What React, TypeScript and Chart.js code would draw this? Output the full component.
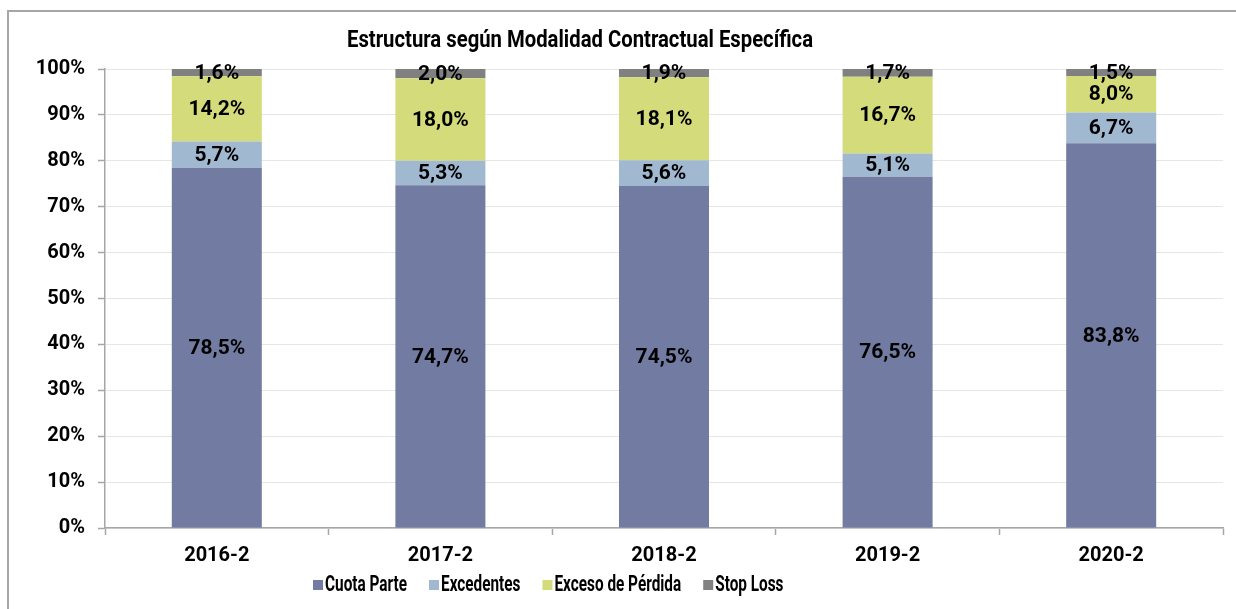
import React, { useEffect, useRef } from "react";
import { Chart, registerables } from "chart.js";

Chart.register(...registerables);

const titleText = "Estructura según Modalidad Contractual Específica";
const categories = ["2016-2", "2017-2", "2018-2", "2019-2", "2020-2"];
const seriesNames = ["Cuota Parte", "Excedentes", "Exceso de Pérdida", "Stop Loss"];
const cuotaParte = [78.5, 74.7, 74.5, 76.5, 83.8];
const excedentes = [5.7, 5.3, 5.6, 5.1, 6.7];
const excesoPerdida = [14.2, 18.0, 18.1, 16.7, 8.0];
const stopLoss = [1.6, 2.0, 1.9, 1.7, 1.5];
const seriesColors = ["#727BA1", "#A0B8D0", "#D4DB7B", "#808080"];

const FONT = "Roboto, 'Noto Sans', sans-serif";

const fmt = (v: number) => v.toFixed(1).replace(".", ",") + "%";

const framePlugin = {
  id: "frame",
  beforeDraw(chart: any) {
    const ctx = chart.ctx;
    ctx.save();
    ctx.fillStyle = "#ffffff";
    ctx.fillRect(0, 0, chart.width, chart.height);
    ctx.strokeStyle = "#a6a6a6";
    ctx.lineWidth = 2;
    ctx.strokeRect(8, 11, 3000, 3000);
    ctx.restore();
  },
};

const labelPlugin = {
  id: "segLabels",
  afterDatasetsDraw(chart: any) {
    const ctx = chart.ctx;
    ctx.save();
    ctx.font = `bold 21px ${FONT}`;
    ctx.fillStyle = "#000000";
    ctx.textAlign = "center";
    ctx.textBaseline = "middle";
    chart.data.datasets.forEach((ds: any, di: number) => {
      const meta = chart.getDatasetMeta(di);
      meta.data.forEach((el: any, i: number) => {
        const p = el.getProps(["x", "y", "base"], true);
        ctx.fillText(fmt(ds.data[i]), p.x, (p.y + p.base) / 2 + 1);
      });
    });
    ctx.restore();
  },
};

const titleLegendPlugin = {
  id: "titleLegend",
  afterDraw(chart: any) {
    const ctx = chart.ctx;
    ctx.save();
    ctx.fillStyle = "#000000";
    ctx.textBaseline = "middle";
    ctx.font = `bold 24px ${FONT}`;
    const tw = ctx.measureText(titleText).width;
    const ts = 466 / tw;
    ctx.save();
    ctx.translate(580, 41);
    ctx.scale(ts, 1);
    ctx.textAlign = "center";
    ctx.fillText(titleText, 0, 0);
    ctx.restore();

    ctx.font = `bold 22px ${FONT}`;
    const ref = ctx.measureText(seriesNames[0]).width;
    const ls = 82 / ref;
    let x = 313;
    const y = 585;
    seriesNames.forEach((name, i) => {
      ctx.fillStyle = seriesColors[i];
      ctx.fillRect(x, y - 5, 10, 10);
      x += 12;
      ctx.fillStyle = "#000000";
      ctx.save();
      ctx.translate(x, y);
      ctx.scale(ls, 1);
      ctx.textAlign = "left";
      ctx.fillText(name, 0, 0);
      ctx.restore();
      x += ctx.measureText(name).width * ls + 22;
    });
    ctx.restore();
  },
};

export default function App() {
  const ref = useRef<HTMLCanvasElement | null>(null);
  useEffect(() => {
    if (!ref.current) return;
    const dataSets = [cuotaParte, excedentes, excesoPerdida, stopLoss];
    const chart = new Chart(ref.current, {
      type: "bar",
      data: {
        labels: categories,
        datasets: dataSets.map((d, i) => ({
          label: seriesNames[i],
          data: d,
          backgroundColor: seriesColors[i],
          borderWidth: 0,
          categoryPercentage: 1,
          barPercentage: 0.4025,
        })),
      },
      options: {
        animation: false,
        responsive: false,
        maintainAspectRatio: false,
        layout: { padding: { left: 20, right: 13, top: 69, bottom: 0 } },
        plugins: {
          legend: { display: false },
          title: { display: false },
          tooltip: { enabled: false },
        },
        scales: {
          x: {
            stacked: true,
            offset: true,
            grid: {
              display: true,
              drawOnChartArea: false,
              drawTicks: true,
              tickLength: 7,
              tickColor: "#a6a6a6",
              tickWidth: 1.5,
              offset: true,
            },
            border: { display: true, color: "#a6a6a6", width: 1.5 },
            ticks: {
              color: "#000000",
              font: { family: FONT, size: 20, weight: "bold" },
              padding: 9,
            },
            afterFit(scale: any) {
              scale.height = 81;
            },
          },
          y: {
            stacked: true,
            min: 0,
            max: 100,
            grid: {
              color: "#e6e6e6",
              lineWidth: 1,
              tickLength: 7,
              tickColor: "#a6a6a6",
              tickWidth: 1.5,
            },
            border: { display: true, color: "#a6a6a6", width: 1.5 },
            ticks: {
              stepSize: 10,
              color: "#000000",
              font: { family: FONT, size: 20, weight: "bold" },
              padding: 13,
              callback: (v: any) => v + "%",
            },
            afterFit(scale: any) {
              scale.width = 85;
            },
          },
        },
      },
      plugins: [framePlugin, labelPlugin, titleLegendPlugin],
    });
    return () => chart.destroy();
  }, []);
  return (
    <div style={{ position: "absolute", left: 0, top: 0, width: 1236, height: 609 }}>
      <canvas ref={ref} width={1236} height={609} style={{ width: 1236, height: 609, display: "block" }} />
    </div>
  );
}
